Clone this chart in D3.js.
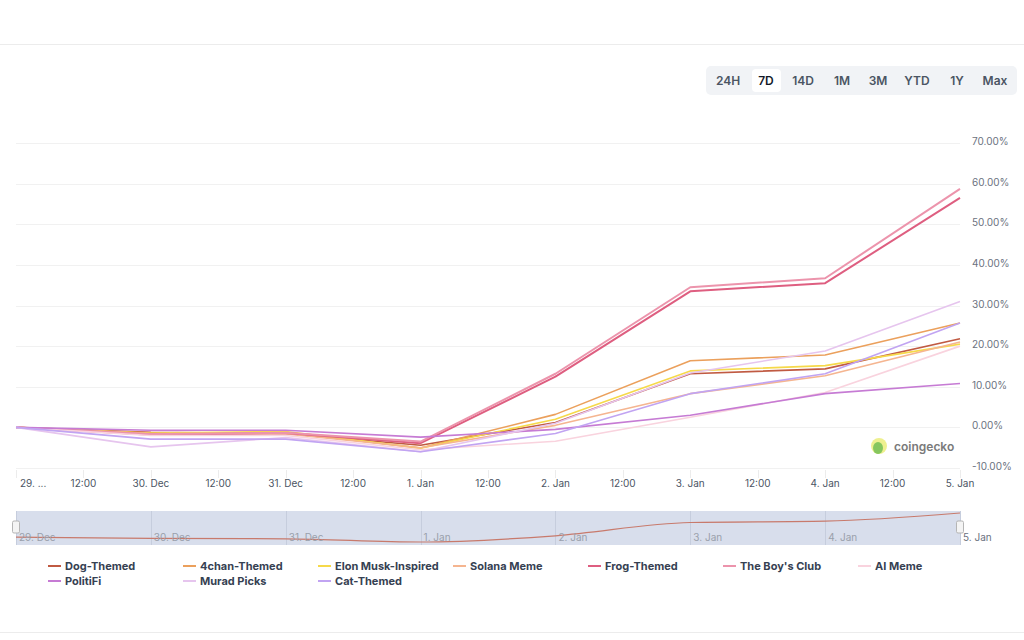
<!DOCTYPE html>
<html>
<head>
<meta charset="utf-8">
<script src="https://cdn.jsdelivr.net/npm/d3@7"></script>
<style>
  body { margin: 0; background: #fff; font-family: Inter, "Noto Sans", sans-serif; }
</style>
</head>
<body>
<div id="chart"></div>
<script>
// days (one point per day)
var days = ["2024-12-29", "2024-12-30", "2024-12-31", "2025-01-01", "2025-01-02", "2025-01-03", "2025-01-04", "2025-01-05"];

var names = ["Dog-Themed", "4chan-Themed", "Elon Musk-Inspired", "Solana Meme", "Frog-Themed", "The Boy's Club", "AI Meme", "PolitiFi", "Murad Picks", "Cat-Themed"];
var colors = ["#c05a42", "#eba05c", "#f6d94a", "#f5b590", "#de5e80", "#ec94ac", "#f9d3de", "#c67bd4", "#e6c5ee", "#c1a4f2"];

// % change values
var dogThemed   = [0, -1.2, -1.5, -4.4, 1.2, 13.2, 14.4, 21.8];
var chanThemed  = [0, -1.5, -1.2, -5.1, 3.2, 16.4, 17.8, 25.7];
var elonMusk    = [0, -1.4, -1.0, -5.1, 2.0, 13.9, 15.2, 20.5];
var solanaMeme  = [0, -1.6, -1.6, -5.0, 0.5, 8.3, 12.7, 21.0];
var frogThemed  = [0, -1.8, -1.4, -3.9, 12.5, 33.5, 35.5, 56.5];
var boysClub    = [0, -1.6, -1.3, -3.5, 13.2, 34.5, 36.7, 58.7];
var aiMeme      = [0, -2.0, -2.0, -5.5, -3.4, 2.5, 8.6, 20.0];
var politiFi    = [0, -0.7, -0.7, -2.4, -0.5, 3.0, 8.3, 10.8];
var muradPicks  = [0, -4.8, -2.5, -6.0, 1.0, 13.4, 18.8, 31.0];
var catThemed   = [0, -2.9, -2.9, -6.0, -1.5, 8.3, 13.2, 25.7];

var series = [dogThemed, chanThemed, elonMusk, solanaMeme, frogThemed, boysClub, aiMeme, politiFi, muradPicks, catThemed];

var yTicks = [-10, 0, 10, 20, 30, 40, 50, 60, 70];
var ranges = ["24H", "7D", "14D", "1M", "3M", "YTD", "1Y", "Max"];

var W = 1024, H = 640;
var plotLeft = 16, plotRight = 960, plotTop = 143, plotBottom = 468;

var svg = d3.select("#chart").append("svg")
    .attr("width", W)
    .attr("height", H);

var parse = d3.timeParse("%Y-%m-%d");
var dates = days.map(parse);

var x = d3.scaleTime()
    .domain(d3.extent(dates))
    .range([plotLeft, plotRight]);

var y = d3.scaleLinear()
    .domain([-10, 70])
    .range([plotBottom, plotTop]);

// separators
svg.append("line").attr("x1", 0).attr("x2", W).attr("y1", 44.5).attr("y2", 44.5)
    .attr("stroke", "#ececec");
svg.append("line").attr("x1", 0).attr("x2", W).attr("y1", 632.5).attr("y2", 632.5)
    .attr("stroke", "#ececec");

// range buttons
var rb = svg.append("g");
rb.append("rect").attr("x", 706).attr("y", 66).attr("width", 311).attr("height", 29)
    .attr("rx", 5).attr("fill", "#f1f3f6");
var btnX = [728, 766, 803, 842, 878, 917, 957, 995];
rb.append("rect")
    .attr("x", 752).attr("y", 69).attr("width", 29).attr("height", 23)
    .attr("rx", 4).attr("fill", "#fff");
rb.selectAll("text")
    .data(ranges)
    .enter().append("text")
    .attr("x", function (d, i) { return btnX[i]; })
    .attr("y", 85)
    .attr("text-anchor", "middle")
    .attr("font-size", 12)
    .attr("font-weight", 600)
    .attr("fill", function (d) { return d == "7D" ? "#111827" : "#4b5563"; })
    .text(function (d) { return d; });

// horizontal grid + y labels
svg.append("g")
    .selectAll("line")
    .data(yTicks)
    .enter().append("line")
    .attr("x1", plotLeft).attr("x2", plotRight)
    .attr("y1", function (d) { return Math.round(y(d)) + 0.5; })
    .attr("y2", function (d) { return Math.round(y(d)) + 0.5; })
    .attr("stroke", "#f1f1f1");

svg.append("g")
    .selectAll("text")
    .data(yTicks)
    .enter().append("text")
    .attr("x", 972)
    .attr("y", function (d) { return y(d) + 2; })
    .attr("font-size", 10)
    .attr("fill", "#6b7280")
    .text(function (d) { return d.toFixed(2) + "%"; });

// x axis
var xTicks = d3.timeHour.every(12).range(dates[0], d3.timeHour.offset(dates[7], 1));
var fmtDay = d3.timeFormat("%-d. %b");
var xa = svg.append("g");
xa.selectAll("line")
    .data(xTicks)
    .enter().append("line")
    .attr("x1", function (d) { return Math.round(x(d)) + 0.5; })
    .attr("x2", function (d) { return Math.round(x(d)) + 0.5; })
    .attr("y1", plotBottom + 2).attr("y2", plotBottom + 10)
    .attr("stroke", "#ececec");
xa.selectAll("text")
    .data(xTicks)
    .enter().append("text")
    .attr("x", function (d, i) { return i == 0 ? x(d) + 4 : x(d); })
    .attr("y", 487)
    .attr("text-anchor", function (d, i) { return i == 0 ? "start" : "middle"; })
    .attr("font-size", 10)
    .attr("fill", "#4b5563")
    .text(function (d, i) {
        if (i == 0) return "29. ...";
        return d.getHours() == 12 ? "12:00" : fmtDay(d);
    });

// watermark
var wm = svg.append("g");
wm.append("circle").attr("cx", 879).attr("cy", 446).attr("r", 8).attr("fill", "#eef08f");
wm.append("ellipse").attr("cx", 878).attr("cy", 448).attr("rx", 5).attr("ry", 6).attr("fill", "#86c65e");
wm.append("text").attr("x", 894).attr("y", 451).attr("font-size", 12).attr("font-weight", 600)
    .attr("fill", "#7a7a7a").text("coingecko");

// lines
var line = d3.line()
    .x(function (d, i) { return x(dates[i]); })
    .y(function (d) { return y(d); });

svg.append("g")
    .selectAll("path")
    .data(series)
    .enter().append("path")
    .attr("fill", "none")
    .attr("stroke", function (d, i) { return colors[i]; })
    .attr("stroke-width", function (d, i) { return (i == 4 || i == 5) ? 2 : 1.6; })
    .attr("stroke-linejoin", "round")
    .attr("d", line);

// navigator
var navTop = 511, navBottom = 545;
var nav = svg.append("g");
nav.append("rect").attr("x", plotLeft).attr("y", navTop).attr("width", plotRight - plotLeft)
    .attr("height", navBottom - navTop).attr("fill", "#d8deec");
nav.selectAll("line")
    .data(dates)
    .enter().append("line")
    .attr("x1", function (d) { return Math.round(x(d)) + 0.5; })
    .attr("x2", function (d) { return Math.round(x(d)) + 0.5; })
    .attr("y1", navTop).attr("y2", navBottom)
    .attr("stroke", "#c6cddd");
var yNav = d3.scaleLinear()
    .domain(d3.extent(dogThemed))
    .range([542, 513]);
nav.append("path")
    .datum(dogThemed)
    .attr("fill", "none")
    .attr("stroke", "#c87a6c")
    .attr("stroke-width", 1.2)
    .attr("d", d3.line()
        .curve(d3.curveMonotoneX)
        .x(function (d, i) { return x(dates[i]); })
        .y(function (d) { return yNav(d); }));
nav.selectAll("text")
    .data(dates)
    .enter().append("text")
    .attr("x", function (d) { return x(d) + 3; })
    .attr("y", 541)
    .attr("font-size", 10)
    .attr("fill", function (d, i) { return i == 7 ? "#6b7280" : "#9aa0ab"; })
    .text(function (d) { return fmtDay(d); });
nav.selectAll("rect.handle")
    .data([dates[0], dates[7]])
    .enter().append("rect")
    .attr("class", "handle")
    .attr("x", function (d) { return x(d) - 3.5; })
    .attr("y", 521).attr("width", 7).attr("height", 12).attr("rx", 1.5)
    .attr("fill", "#f4f4f4").attr("stroke", "#b5b5b5");

// legend
var leg = svg.append("g");
var item = leg.selectAll("g")
    .data(names)
    .enter().append("g")
    .attr("transform", function (d, i) {
        return "translate(" + (48 + (i % 7) * 135) + "," + (566 + Math.floor(i / 7) * 15) + ")";
    });
item.append("line")
    .attr("x1", 0).attr("x2", 13).attr("y1", 0).attr("y2", 0)
    .attr("stroke", function (d, i) { return colors[i]; })
    .attr("stroke-width", 2);
item.append("text")
    .attr("x", 17).attr("y", 4)
    .attr("font-size", 11)
    .attr("font-weight", 700)
    .attr("fill", "#364152")
    .text(function (d) { return d; });
</script>
</body>
</html>
